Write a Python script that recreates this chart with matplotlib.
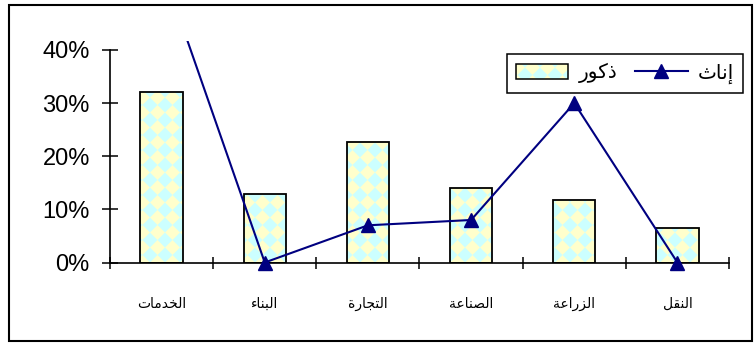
import numpy as np
import matplotlib
matplotlib.use("Agg")
from matplotlib import pyplot as plt
from matplotlib.patches import Rectangle
from matplotlib.collections import PolyCollection
from matplotlib.transforms import IdentityTransform
from matplotlib.ticker import PercentFormatter

plt.rcParams['font.family'] = ['Liberation Sans', 'DejaVu Sans']

sectors = ["الخدمات", "البناء", "التجارة", "الصناعة", "الزراعة", "النقل"]
males   = [0.32, 0.128, 0.226, 0.140, 0.118, 0.064]
females = [0.557, 0.0, 0.07, 0.08, 0.30, 0.0]
male_label, female_label = "ذكور", "إناث"

# contextual letter forms (isolated, final, initial, medial)
FORMS = {
  'ء': ('\uFE80',),
  'ا': ('\uFE8D', '\uFE8E'),
  'إ': ('\uFE87', '\uFE88'),
  'ب': ('\uFE8F', '\uFE90', '\uFE91', '\uFE92'),
  'ة': ('\uFE93', '\uFE94'),
  'ت': ('\uFE95', '\uFE96', '\uFE97', '\uFE98'),
  'ث': ('\uFE99', '\uFE9A', '\uFE9B', '\uFE9C'),
  'ج': ('\uFE9D', '\uFE9E', '\uFE9F', '\uFEA0'),
  'خ': ('\uFEA5', '\uFEA6', '\uFEA7', '\uFEA8'),
  'د': ('\uFEA9', '\uFEAA'),
  'ذ': ('\uFEAB', '\uFEAC'),
  'ر': ('\uFEAD', '\uFEAE'),
  'ز': ('\uFEAF', '\uFEB0'),
  'ص': ('\uFEB9', '\uFEBA', '\uFEBB', '\uFEBC'),
  'ع': ('\uFEC9', '\uFECA', '\uFECB', '\uFECC'),
  'ق': ('\uFED5', '\uFED6', '\uFED7', '\uFED8'),
  'ك': ('\uFED9', '\uFEDA', '\uFEDB', '\uFEDC'),
  'ل': ('\uFEDD', '\uFEDE', '\uFEDF', '\uFEE0'),
  'م': ('\uFEE1', '\uFEE2', '\uFEE3', '\uFEE4'),
  'ن': ('\uFEE5', '\uFEE6', '\uFEE7', '\uFEE8'),
  'و': ('\uFEED', '\uFEEE'),
}

def shape(word):
  out = []
  for i, c in enumerate(word):
    f = FORMS.get(c)
    if f is None:
      out.append(c); continue
    prev = FORMS.get(word[i-1]) if i > 0 else None
    nxt  = FORMS.get(word[i+1]) if i + 1 < len(word) else None
    jp = prev is not None and len(prev) == 4 and len(f) >= 2
    jn = nxt is not None and len(f) == 4 and len(nxt) >= 2
    if jp and jn: out.append(f[3])
    elif jp:      out.append(f[1])
    elif jn:      out.append(f[2])
    else:         out.append(f[0])
  return ''.join(out)[::-1]

W, H, DPI = 754, 345, 100
fig = plt.figure(figsize=(W/DPI, H/DPI), dpi=DPI)

# plot area in pixels
left, right, bottom, top = 110, 729, 262.5, 41
ax = fig.add_axes([left/W, 1-bottom/H, (right-left)/W, (bottom-top)/H])

x = np.arange(len(sectors))
yellow, cyan = '#ffffcc', '#ccffff'

# cyan diamonds on a 15 px lattice, in display pixels
s = 15.0
gx, gy = np.meshgrid(np.arange(0, W + s, s), np.arange(0, H + s, s))
unit = np.array([[-s/2, 0], [0, s/2], [s/2, 0], [0, -s/2]])
diamonds = [unit + c for c in np.column_stack([gx.ravel(), gy.ravel()])]

def texture(clip, z):
  pc = PolyCollection(diamonds, facecolors=cyan, edgecolors='none',
                      transform=IdentityTransform(), zorder=z)
  ax.add_collection(pc, autolim=False)
  pc.set_clip_path(clip)
  return pc

bars = ax.bar(x, males, width=0.41, color=yellow, edgecolor='none', zorder=1)
for b in bars:
  texture(b, 1.5)
ax.bar(x, males, width=0.41, fill=False, edgecolor='black', linewidth=1.3, zorder=2)

line, = ax.plot(x, females, color='#000080', lw=1.5, marker='^', markersize=10.5,
                markerfacecolor='#000080', markeredgecolor='#000080', zorder=3)
# clip only at the top so markers on the axis stay whole
line.set_clip_path(Rectangle((0, -0.3), 1, 1.3, transform=ax.transAxes))

ax.set_xlim(-0.5, 5.5)
ax.set_ylim(0, 0.4169)
ax.spines['top'].set_visible(False)
ax.spines['right'].set_visible(False)
ax.spines['left'].set_bounds(0, 0.4)
for sp in ('left', 'bottom'):
  ax.spines[sp].set_linewidth(1.2)

ax.set_yticks([0, 0.1, 0.2, 0.3, 0.4])
ax.yaxis.set_major_formatter(PercentFormatter(1.0, decimals=0))
ax.tick_params(axis='y', direction='inout', length=11, width=1.1, pad=9, labelsize=17)

ax.set_xticks(np.arange(-0.5, 6, 1.0))
ax.set_xticklabels([])
ax.tick_params(axis='x', which='major', direction='inout', length=9, width=1.1)
ax.set_xticks(x, [shape(t) for t in sectors], minor=True)
ax.tick_params(axis='x', which='minor', length=0, pad=25, labelsize=10)

leg = ax.legend([bars, line], [shape(male_label), shape(female_label)],
                ncol=2, loc='upper right', bbox_to_anchor=(743/W, 1-54/H),
                bbox_transform=fig.transFigure, borderaxespad=0, fontsize=14.5,
                frameon=True, fancybox=False, framealpha=1, edgecolor='black',
                handlelength=2.6, handleheight=0.8, handletextpad=0.5,
                columnspacing=0.9, borderpad=0.45)
leg.get_frame().set_linewidth(1.1)
leg.set_zorder(5)

# texture the legend swatch too, once its position is known
fig.canvas.draw()
hb = leg.get_patches()[0].get_window_extent(fig.canvas.get_renderer())
sw = Rectangle((hb.x0, hb.y0), hb.width, hb.height, transform=IdentityTransform(),
               fill=False, edgecolor='black', linewidth=1.1, zorder=7)
sw.set_clip_on(False)
ax.add_artist(sw)
texture(sw, 6)

# outer frame
fig.patches.append(Rectangle((9/W, 1-341/H), (752-9)/W, (341-5)/H,
                             transform=fig.transFigure, fill=False,
                             edgecolor='black', linewidth=1.5))

fig.savefig('out.png', dpi=DPI)
